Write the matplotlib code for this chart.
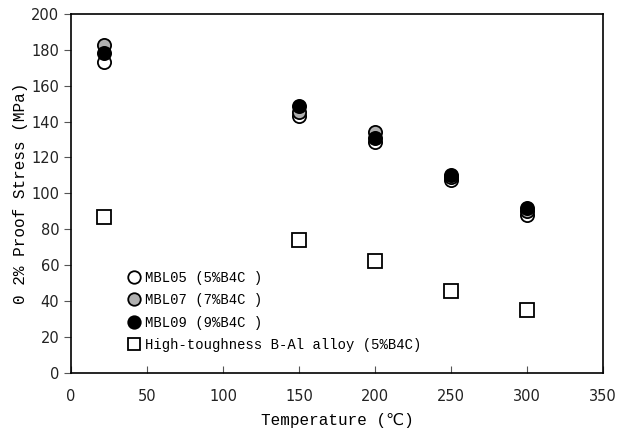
import numpy as np
import matplotlib.pyplot as plt

# test temperatures (degC)
temp = [22, 150, 200, 250, 300]

# 0.2% proof stress (MPa)
mbl05 = [173, 143, 128.5, 107.5, 88]
mbl07 = [182.5, 145.5, 134, 109, 90]
mbl09 = [178.5, 148.5, 131, 110, 91.5]
b_al = [87, 74, 62, 45.5, 35]

labels = ["MBL05 (5%B4C )", "MBL07 (7%B4C )", "MBL09 (9%B4C )",
          "High-toughness B-Al alloy (5%B4C)"]

mono = "Liberation Mono"

fig = plt.figure(figsize=(6.21, 4.34), dpi=100)
ax = fig.add_axes([0.1143, 0.1417, 0.8567, 0.8260])

ms = 9.5
ax.plot(temp, mbl05, "o", ms=ms, mfc="white", mec="black", mew=1.3, label=labels[0])
ax.plot(temp, mbl07, "o", ms=ms, mfc="#b0b0b0", mec="black", mew=1.3, label=labels[1])
ax.plot(temp, mbl09, "o", ms=ms, mfc="black", mec="black", mew=1.3, label=labels[2])
ax.plot(temp, b_al, "s", ms=ms, mfc="white", mec="black", mew=1.3, label=labels[3])

ax.set_xlim(0, 350)
ax.set_ylim(0, 200)
ax.set_xticks(np.arange(0, 351, 50))
ax.set_yticks(np.arange(0, 201, 20))
ax.tick_params(axis="x", direction="in", length=5, labelsize=10.5, pad=12,
               color="#555555", labelcolor="#222222")
ax.tick_params(axis="y", direction="out", length=5, labelsize=10.5,
               color="#555555", labelcolor="#222222")
for s in ax.spines.values():
    s.set_linewidth(1.2)

ax.set_xlabel("Temperature (℃)", family=[mono, "DejaVu Sans"], fontsize=11.5, labelpad=6)
ax.set_ylabel("0 2% Proof Stress (MPa)", family=mono, fontsize=11.5, labelpad=2)

leg = ax.legend(loc="upper left", bbox_to_anchor=(0.095, 0.30), frameon=False,
                prop={"family": mono, "size": 10}, handletextpad=0.3,
                handlelength=1.0, labelspacing=0.62, borderaxespad=0)
for h in leg.legend_handles:
    h.set_markersize(9)

fig.savefig("out.png", dpi=100)
